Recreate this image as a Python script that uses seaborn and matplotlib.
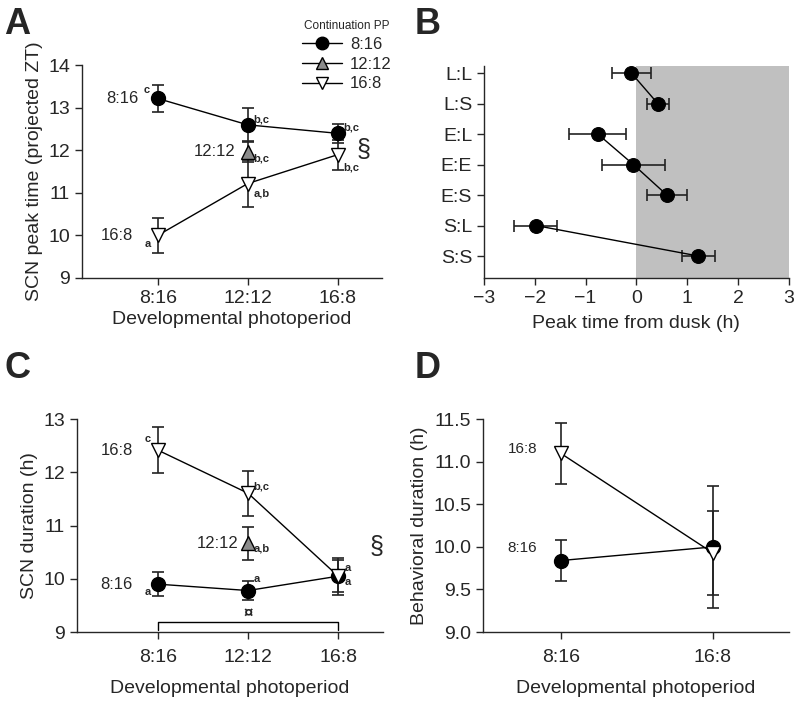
import numpy as np
import pandas as pd
import matplotlib
matplotlib.use("Agg")
import matplotlib.pyplot as plt
from matplotlib.lines import Line2D
import seaborn as sns

# developmental photoperiods (x categories of A and C)
dev_pp = ["8:16", "12:12", "16:8"]

# A: SCN peak time (projected ZT), by continuation photoperiod
A_816 = [13.22, 12.60, 12.40]
A_816_err = [0.32, 0.40, 0.22]
A_1212 = [11.97]
A_1212_err = [0.25]
A_168 = [10.00, 11.22, 11.90]
A_168_err = [0.42, 0.55, 0.35]

# B: peak time from dusk
B_groups = ["L:L", "L:S", "E:L", "E:E", "E:S", "S:L", "S:S"]
B_vals = [-0.10, 0.42, -0.76, -0.06, 0.60, -1.98, 1.22]
B_err = [0.38, 0.22, 0.56, 0.62, 0.40, 0.42, 0.32]
B_link = ["L", "L", "E", "E", "E", "S", "S"]

# C: SCN duration (h)
C_816 = [9.90, 9.78, 10.05]
C_816_err = [0.22, 0.17, 0.30]
C_1212 = [10.67]
C_1212_err = [0.31]
C_168 = [12.42, 11.61, 10.05]
C_168_err = [0.43, 0.42, 0.35]

# D: behavioral duration (h)
D_pp = ["8:16", "16:8"]
D_816 = [9.84, 10.00]
D_816_err = [0.24, 0.72]
D_168 = [11.10, 9.93]
D_168_err = [0.36, 0.49]

sns.set_style("ticks")
plt.rcParams["font.family"] = ["Liberation Sans", "DejaVu Sans"]
plt.rcParams["xtick.labelsize"] = 14
plt.rcParams["ytick.labelsize"] = 14
plt.rcParams["axes.labelsize"] = 14
plt.rcParams["axes.linewidth"] = 1.0

fig = plt.figure(figsize=(8, 7.02), dpi=100)
axA = fig.add_axes([0.1025, 0.604, 0.375, 0.303])
axB = fig.add_axes([0.605, 0.604, 0.381, 0.302])
axC = fig.add_axes([0.096, 0.0997, 0.383, 0.303])
axD = fig.add_axes([0.604, 0.0997, 0.382, 0.303])

styles = {
    "8:16": dict(marker="o", color="black", mfc="black"),
    "12:12": dict(marker="^", color="black", mfc="#8c8c8c"),
    "16:8": dict(marker="v", color="black", mfc="white"),
}


def series(ax, xs, ys, err, key, ms=10):
    st = styles[key]
    ax.errorbar(xs, ys, yerr=err, fmt="none", ecolor="#222222",
                elinewidth=1.2, capsize=4, capthick=1.2, zorder=2)
    sns.lineplot(x=xs, y=ys, ax=ax, color=st["color"], lw=1.0,
                 marker=st["marker"], markersize=ms, markerfacecolor=st["mfc"],
                 markeredgecolor="black", markeredgewidth=1.0, zorder=3,
                 sort=False, legend=False)


def note(ax, text, x, y, dx, dy, size=8, ha="center", va="center", bold=True):
    ax.annotate(text, (x, y), xytext=(dx, dy), textcoords="offset points",
                ha=ha, va=va, fontsize=size,
                fontweight="bold" if bold else "normal")


# ---- A
xi = list(range(len(dev_pp)))
series(axA, xi, A_816, A_816_err, "8:16")
series(axA, [dev_pp.index("12:12")], A_1212, A_1212_err, "12:12")
series(axA, xi, A_168, A_168_err, "16:8")
axA.set_xlim(-0.84, 2.49)
axA.set_ylim(9, 14)
axA.set_xticks(xi, dev_pp)
axA.set_yticks(range(9, 15))
axA.set_xlabel("Developmental photoperiod", labelpad=3)
axA.set_ylabel("SCN peak time (projected ZT)")
note(axA, "8:16", 0, A_816[0], -14, 0, size=12, ha="right", bold=False)
note(axA, "12:12", 1, A_1212[0], -9, 0, size=12, ha="right", bold=False)
note(axA, "16:8", 0, A_168[0], -18, 0, size=12, ha="right", bold=False)
note(axA, "c", 0, A_816[0], -8, 6)
note(axA, "b,c", 1, A_816[1], 4, 4, ha="left")
note(axA, "b,c", 2, A_816[2], 4, 4, ha="left")
note(axA, "b,c", 1, A_1212[0], 4, -5, ha="left")
note(axA, "a", 0, A_168[0], -7, -6)
note(axA, "a,b", 1, A_168[1], 4, -7, ha="left")
note(axA, "b,c", 2, A_168[2], 4, -9, ha="left")
axA.text(2.28, 12.0, "§", fontsize=18, ha="center", va="center")
handles = [Line2D([], [], color="black", lw=1.0, marker=styles[k]["marker"],
                  markersize=9, markerfacecolor=styles[k]["mfc"],
                  markeredgecolor="black") for k in dev_pp]
leg = axA.legend(handles, dev_pp, title="Continuation PP", loc="upper right",
                 bbox_to_anchor=(1.06, 1.25), frameon=False, fontsize=12,
                 title_fontsize=8.5, handlelength=2.4, labelspacing=0.28,
                 borderpad=0, handletextpad=0.5)

# ---- B
bdf = pd.DataFrame({"group": B_groups, "peak": B_vals, "err": B_err,
                    "link": B_link, "pos": range(len(B_groups))})
axB.axvspan(0, 3, color="#c0c0c0", lw=0, zorder=0)
axB.errorbar(bdf["peak"], bdf["pos"], xerr=bdf["err"], fmt="none",
             ecolor="#222222", elinewidth=1.2, capsize=4, capthick=1.2, zorder=2)
sns.lineplot(data=bdf, x="peak", y="pos", units="link", estimator=None,
             sort=False, orient="y", color="black", lw=1.0, marker="o",
             markersize=10, markeredgecolor="black", ax=axB, zorder=3,
             legend=False)
axB.set_xlim(-3, 3)
axB.set_ylim(6.72, -0.23)
axB.set_yticks(bdf["pos"], B_groups)
axB.set_xticks(range(-3, 4), [f"{v}".replace("-", "\u2212") for v in range(-3, 4)])
axB.set_xlabel("Peak time from dusk (h)", labelpad=6)
axB.set_ylabel("")

# ---- C
series(axC, xi, C_816, C_816_err, "8:16")
series(axC, [dev_pp.index("12:12")], C_1212, C_1212_err, "12:12")
series(axC, xi, C_168, C_168_err, "16:8")
axC.set_xlim(-0.9, 2.5)
axC.set_ylim(9, 13)
axC.set_xticks(xi, dev_pp)
axC.set_yticks(range(9, 14))
axC.set_xlabel("Developmental photoperiod", labelpad=10)
axC.set_ylabel("SCN duration (h)")
note(axC, "16:8", 0, C_168[0], -18, 0, size=12, ha="right", bold=False)
note(axC, "12:12", 1, C_1212[0], -7, 0, size=12, ha="right", bold=False)
note(axC, "8:16", 0, C_816[0], -18, 0, size=12, ha="right", bold=False)
note(axC, "c", 0, C_168[0], -7, 8)
note(axC, "b,c", 1, C_168[1], 4, 5, ha="left")
note(axC, "a,b", 1, C_1212[0], 4, -4, ha="left")
note(axC, "a", 0, C_816[0], -7, -6)
note(axC, "a", 1, C_816[1], 6, 8)
note(axC, "a", 2, C_816[2], 7, 6)
note(axC, "a", 2, C_168[2], 7, -4)
axC.plot([0, 0, 2, 2], [9.04, 9.19, 9.19, 9.04], color="black", lw=1.0)
axC.text(1, 9.36, "¤", fontsize=12, ha="center", va="center", fontweight="bold")
axC.text(2.43, 10.6, "§", fontsize=18, ha="center", va="center")

# ---- D
di = list(range(len(D_pp)))
series(axD, di, D_816, D_816_err, "8:16")
series(axD, di, D_168, D_168_err, "16:8")
axD.set_xlim(-0.51, 1.5)
axD.set_ylim(9, 11.5)
axD.set_xticks(di, D_pp)
axD.set_yticks(np.arange(9.0, 11.6, 0.5))
axD.set_yticklabels([f"{v:.1f}" for v in np.arange(9.0, 11.6, 0.5)])
axD.set_xlabel("Developmental photoperiod", labelpad=10)
axD.set_ylabel("Behavioral duration (h)")
note(axD, "16:8", 0, D_168[0], -17, 3, size=11, ha="right", bold=False)
note(axD, "8:16", 0, D_816[0], -17, 9, size=11, ha="right", bold=False)

for ax in (axA, axB, axC, axD):
    sns.despine(ax=ax)
    ax.tick_params(direction="out", length=5, width=1.0)
for ax in (axC, axD):
    ax.tick_params(axis="x", pad=7)

for lab, x, y in (("A", 0.005, 0.99), ("B", 0.518, 0.99),
                  ("C", 0.005, 0.50), ("D", 0.518, 0.50)):
    fig.text(x, y, lab, fontsize=26, fontweight="bold", ha="left", va="top")

fig.savefig("out.png", dpi=100)
